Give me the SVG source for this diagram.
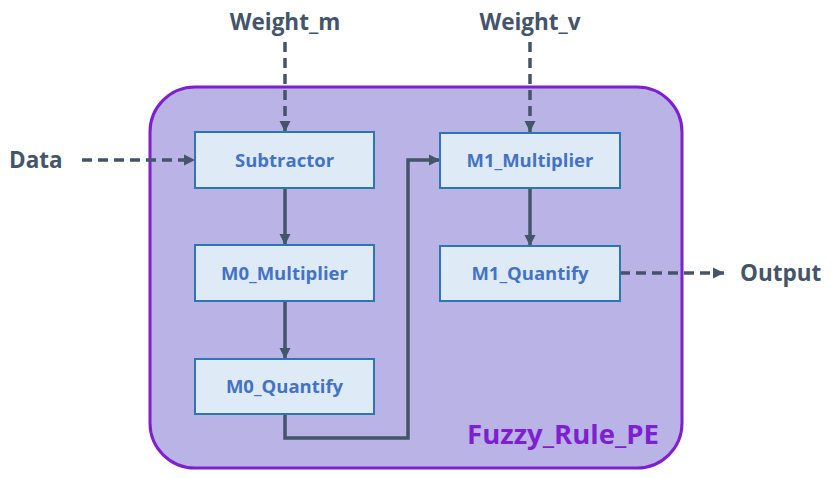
<svg xmlns="http://www.w3.org/2000/svg" width="835" height="478" viewBox="0 0 835 478">
<defs>
<marker id="ah" viewBox="0 0 10 10" refX="10" refY="5" markerWidth="3.2" markerHeight="3.2" orient="auto" markerUnits="strokeWidth">
<path d="M0,0 L10,5 L0,10 Z" fill="#44546A"/>
</marker>
<style>
.node rect{fill:#DEEBF7;stroke:#2E75B6;stroke-width:2}
.node text{font-family:"Open Sans",sans-serif;font-weight:bold;font-size:18.5px;fill:#4472C4;text-anchor:middle}
.lbl{font-family:"Open Sans",sans-serif;font-weight:bold;font-size:22.5px;fill:#44546A}
.c{fill:none;stroke:#44546A;stroke-width:3.5}
.d{stroke-dasharray:10 6}
</style>
</defs>
<g id="container">
<rect x="150" y="87" width="532" height="381" rx="45" ry="45" fill="#B9B3E6" stroke="#7E1FD0" stroke-width="3"/>
<text x="563" y="444" font-family="Open Sans, sans-serif" font-weight="bold" font-size="27.5" fill="#7E1FD0" text-anchor="middle">Fuzzy_Rule_PE</text>
</g>
<g id="labels">
<text class="lbl" x="285" y="30" text-anchor="middle">Weight_m</text>
<text class="lbl" x="530" y="30" text-anchor="middle">Weight_v</text>
<text class="lbl" x="9" y="168">Data</text>
<text class="lbl" x="740" y="281">Output</text>
</g>
<g id="connectors">
<path class="c d" d="M285,42 V132" marker-end="url(#ah)"/>
<path class="c d" d="M530,42 V132" marker-end="url(#ah)"/>
<path class="c d" d="M82,160 H195" marker-end="url(#ah)"/>
<path class="c d" d="M620,273 H724" marker-end="url(#ah)"/>
<path class="c" d="M285,188 V245" marker-end="url(#ah)"/>
<path class="c" d="M285,301 V359" marker-end="url(#ah)"/>
<path class="c" d="M530,188 V246" marker-end="url(#ah)"/>
<path class="c" d="M285,414 V438 H408 V160 H440" marker-end="url(#ah)"/>
</g>
<g id="subtractor" class="node"><rect x="195" y="132" width="179" height="56"/><text x="284.5" y="166.5">Subtractor</text></g>
<g id="m0_multiplier" class="node"><rect x="195" y="245" width="179" height="56"/><text x="284.5" y="279.5">M0_Multiplier</text></g>
<g id="m0_quantify" class="node"><rect x="195" y="359" width="179" height="55"/><text x="284.5" y="392.5">M0_Quantify</text></g>
<g id="m1_multiplier" class="node"><rect x="440" y="133" width="180" height="55"/><text x="530" y="166.5">M1_Multiplier</text></g>
<g id="m1_quantify" class="node"><rect x="440" y="246" width="180" height="55"/><text x="530" y="279.5">M1_Quantify</text></g>
</svg>
